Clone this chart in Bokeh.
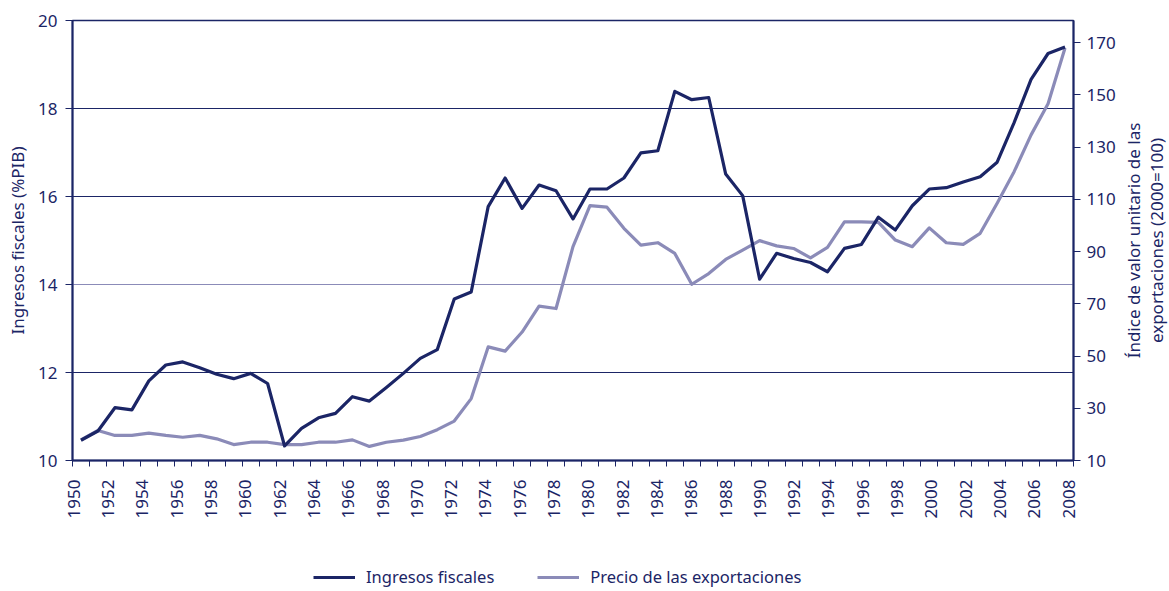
import math
from bokeh.plotting import figure
from bokeh.layouts import column, row
from bokeh.models import Range1d, LinearAxis, FixedTicker, Grid, Legend, LegendItem, ColumnDataSource, Label
from bokeh.embed import file_html
from bokeh.resources import INLINE

# ---------------- data ----------------
years = list(range(1950, 2009))
ingresos = [10.46, 10.67, 11.20, 11.15, 11.81, 12.17, 12.24, 12.11, 11.96, 11.86,
            11.98, 11.75, 10.33, 10.73, 10.97, 11.07, 11.45, 11.35, 11.66, 11.98,
            12.32, 12.52, 13.67, 13.83, 15.77, 16.42, 15.73, 16.26, 16.13, 15.49,
            16.17, 16.17, 16.42, 16.99, 17.04, 18.39, 18.20, 18.25, 16.51, 16.02,
            14.12, 14.71, 14.59, 14.50, 14.29, 14.82, 14.91, 15.53, 15.24, 15.79,
            16.17, 16.20, 16.33, 16.45, 16.78, 17.68, 18.66, 19.25, 19.40]
precio = [17.9, 21.5, 19.6, 19.6, 20.5, 19.6, 18.9, 19.6, 18.3, 16.1,
          17.0, 17.0, 16.1, 16.1, 17.0, 17.0, 17.9, 15.4, 17.0, 17.8,
          19.2, 21.8, 25.1, 33.7, 53.5, 51.9, 59.2, 69.1, 68.2, 91.9,
          107.6, 107.0, 98.9, 92.5, 93.4, 89.3, 77.5, 81.6, 87.0, 90.6,
          94.2, 92.2, 91.2, 87.6, 91.6, 101.4, 101.4, 101.2, 94.4, 91.9,
          99.1, 93.4, 92.8, 97.0, 108.5, 120.6, 134.7, 146.6, 168.0]
left_ticks = [10, 12, 14, 16, 18, 20]
right_ticks = [10, 30, 50, 70, 90, 110, 130, 150, 170]
label_years = list(range(1950, 2009, 2))
left_label = "Ingresos fiscales (%PIB)"
right_label_1 = "Índice de valor unitario de las"
right_label_2 = "exportaciones (2000=100)"
series_names = ["Ingresos fiscales", "Precio de las exportaciones"]

NAVY = "#1b2566"
LIGHT = "#8b8bb8"
FONT = "Noto Sans"

# layout sizes (pixels)
MAIN_W, MAIN_H = 1120, 550
SIDE_W = 49
TOP, LEFT, RIGHT = 20, 72, 47
FRAME_BOTTOM = 460
LEG_H = 38

src = ColumnDataSource(dict(year=years, ingresos=ingresos, precio=precio))

p = figure(width=MAIN_W, height=MAIN_H, output_backend="svg", toolbar_location=None,
           x_range=Range1d(1949.5, 2008.5), y_range=Range1d(10, 20),
           min_border_left=LEFT, min_border_right=RIGHT, min_border_top=TOP,
           min_border_bottom=MAIN_H - FRAME_BOTTOM, background_fill_color="white",
           border_fill_color="white")
p.extra_y_ranges = {"r": Range1d(10, 178.5)}
p.grid.visible = False
p.outline_line_color = NAVY
p.outline_line_width = 1.5

# x axis: year labels every two years, tick marks between the yearly categories
span = (2008.21 - 1949.58) / 58.0
label_pos = [round(1949.58 + (y - 1950) * span, 4) for y in label_years]
xa = p.xaxis[0]
xa.ticker = FixedTicker(ticks=label_pos, minor_ticks=[y - 0.5 for y in years] + [years[-1] + 0.5])
xa.major_label_overrides = {pos: str(y) for pos, y in zip(label_pos, label_years)}
xa.major_label_orientation = math.pi / 2
xa.major_tick_out = 0
xa.major_tick_in = 0
xa.minor_tick_out = 6
xa.minor_tick_in = 0
xa.minor_tick_line_color = NAVY
xa.axis_line_color = NAVY
xa.axis_line_width = 2
xa.major_label_standoff = 13
xa.major_label_text_font = FONT
xa.major_label_text_font_size = "17px"
xa.major_label_text_color = NAVY

# left axis
ya = p.yaxis[0]
ya.ticker = FixedTicker(ticks=left_ticks, minor_ticks=[])
ya.major_tick_out = 7
ya.major_tick_in = 0
ya.major_tick_line_color = NAVY
ya.axis_line_color = NAVY
ya.axis_line_width = 2
ya.major_label_standoff = 8
ya.major_label_text_font = FONT
ya.major_label_text_font_size = "17px"
ya.major_label_text_color = NAVY
ya.axis_label = left_label
ya.axis_label_text_font = FONT
ya.axis_label_text_font_size = "17px"
ya.axis_label_text_font_style = "normal"
ya.axis_label_text_color = NAVY
ya.axis_label_standoff = 6

# right axis (ticks and numbers)
ra = LinearAxis(y_range_name="r", ticker=FixedTicker(ticks=right_ticks, minor_ticks=[]))
ra.major_tick_out = 7
ra.major_tick_in = 0
ra.minor_tick_out = 0
ra.major_tick_line_color = NAVY
ra.axis_line_color = NAVY
ra.axis_line_width = 2
ra.major_label_standoff = 6
ra.major_label_text_font = FONT
ra.major_label_text_font_size = "17px"
ra.major_label_text_color = NAVY
p.add_layout(ra, "right")

# grid lines
p.add_layout(Grid(dimension=1, ticker=FixedTicker(ticks=[12, 16, 18]),
                  grid_line_color=NAVY, grid_line_width=1.2))
p.add_layout(Grid(dimension=1, ticker=FixedTicker(ticks=[14]),
                  grid_line_color=LIGHT, grid_line_width=1.2))

# lines
p.line("year", "precio", source=src, y_range_name="r", color=LIGHT,
       line_width=3.2, line_join="round")
p.line("year", "ingresos", source=src, color=NAVY, line_width=3.2,
       line_join="round")

# strip at the right holding the two-line title of the right axis
side = figure(width=SIDE_W, height=MAIN_H, output_backend="svg", toolbar_location=None,
              x_axis_location=None, y_axis_location=None,
              min_border_left=0, min_border_right=0, min_border_top=TOP,
              min_border_bottom=MAIN_H - FRAME_BOTTOM,
              x_range=Range1d(0, 1), y_range=Range1d(0, 1),
              outline_line_color=None, background_fill_color="white",
              border_fill_color="white")
side.grid.visible = False
mid = (FRAME_BOTTOM - TOP) / 2.0
for txt, xpos in ((right_label_1, 12.5), (right_label_2, 36)):
    side.add_layout(Label(x=xpos, y=mid, x_units="screen", y_units="screen",
                          text=txt, angle=math.pi / 2, text_align="center",
                          text_baseline="middle", text_font=FONT,
                          text_font_size="17px", text_color=NAVY))

# legend strip below the chart
leg = figure(width=MAIN_W + SIDE_W, height=LEG_H, output_backend="svg", toolbar_location=None,
             x_axis_location=None, y_axis_location=None, min_border=0,
             min_border_left=LEFT,
             x_range=Range1d(10, 11), y_range=Range1d(10, 11),
             outline_line_color=None, background_fill_color="white",
             border_fill_color="white")
leg.grid.visible = False
dummy = ColumnDataSource(dict(x=[0, 0], y=[0, 0]))
l_ing = leg.line("x", "y", source=dummy, color=NAVY, line_width=3.2)
l_pre = leg.line("x", "y", source=dummy, color=LIGHT, line_width=3.2)
legend = Legend(items=[LegendItem(label=series_names[0], renderers=[l_ing]),
                       LegendItem(label=series_names[1], renderers=[l_pre])],
                location=(241, 0), orientation="horizontal",
                glyph_width=42, glyph_height=20, label_standoff=11, spacing=43,
                padding=0, margin=0, border_line_alpha=0, background_fill_alpha=0,
                label_text_font=FONT, label_text_font_size="16.5px",
                label_text_color=NAVY)
leg.add_layout(legend, "center")

layout = column(row(p, side, spacing=0), leg, spacing=0)
open("out.html", "w").write(file_html(layout, INLINE))
